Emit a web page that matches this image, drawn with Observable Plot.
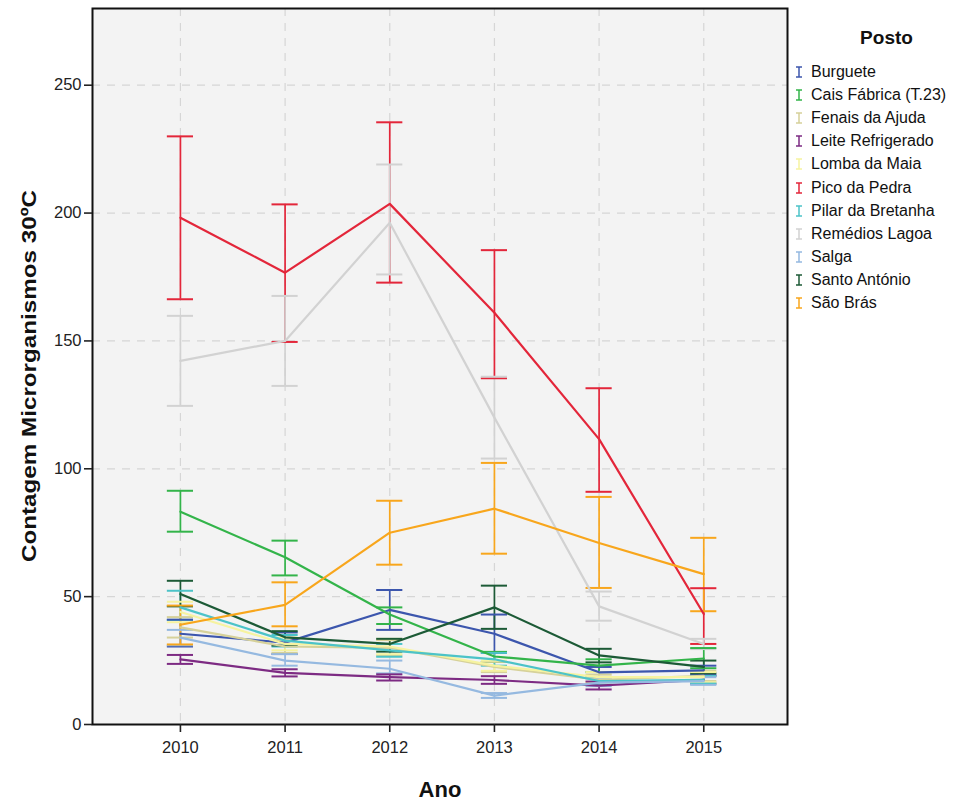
<!DOCTYPE html>
<html><head><meta charset="utf-8">
<script src="https://cdn.jsdelivr.net/npm/d3@7"></script>
<script src="https://cdn.jsdelivr.net/npm/@observablehq/plot@0.6"></script>
<style>
body{margin:0;background:#fff;font-family:"Liberation Sans",Arial,sans-serif;}
#wrap{position:relative;width:978px;height:801px;overflow:hidden;}
#chart{position:absolute;left:0;top:0;}
#legend{position:absolute;left:795px;top:24px;width:183px;}
#legend .title{font-weight:bold;font-size:19px;text-align:center;width:183px;height:36px;line-height:28px;color:#111;}
#legend .item{height:23.2px;display:flex;align-items:center;font-size:16px;color:#111;white-space:nowrap;}
#legend .item svg{margin-right:8px;flex:none;}
#labels{position:absolute;left:0;top:0;pointer-events:none;}
</style></head><body>
<div id="wrap"><div id="chart"></div><svg id="labels" width="978" height="801"></svg><div id="legend"></div></div>
<script>
const years = [2010, 2011, 2012, 2013, 2014, 2015];
const yTicks = [0, 50, 100, 150, 200, 250];
const postos = ["Burguete", "Cais Fábrica (T.23)", "Fenais da Ajuda", "Leite Refrigerado", "Lomba da Maia", "Pico da Pedra", "Pilar da Bretanha", "Remédios Lagoa", "Salga", "Santo António", "São Brás"];
const colors = ["#3c56ad", "#33b44a", "#d6d19a", "#7d2b83", "#f6f3a0", "#e3263a", "#4cc3c8", "#d2d2d2", "#95b9e0", "#1c5a36", "#f8a61c"];

// means, lower and upper error-bar ends per posto (2010..2015)
const burgueteMean = [35.5, 32, 44.8, 35.5, 20.4, 21.2];
const burgueteLo   = [30.5, 27.6, 37, 28, 18.5, 19.5];
const burgueteHi   = [41, 36, 52.6, 43, 22.5, 23];
const caisMean = [83.2, 65.4, 43, 26.6, 23, 25.8];
const caisLo   = [75.4, 58.3, 39.3, 24.5, 20.5, 22];
const caisHi   = [91.4, 71.9, 45.8, 28.4, 25.5, 29.9];
const fenaisMean = [38, 30.5, 30, 22.5, 17.5, 19];
const fenaisLo   = [34, 28, 27, 20.5, 15.5, 17];
const fenaisHi   = [42, 33, 33, 24.5, 19.5, 21];
const leiteMean = [25.5, 20.2, 18.5, 17.4, 15.2, 17.5];
const leiteLo   = [23.7, 18.8, 17.2, 15.9, 13.7, 16];
const leiteHi   = [27.2, 21.6, 19.6, 18.9, 16.8, 19];
const lombaMean = [44, 31.5, 30.5, 23, 18.5, 18.5];
const lombaLo   = [40, 29, 27.5, 21, 16.5, 16.5];
const lombaHi   = [48, 34, 33.5, 25, 20.5, 20.5];
const picoMean = [198.2, 176.7, 203.6, 161, 111.6, 43.2];
const picoLo   = [166.3, 149.6, 172.8, 135.4, 91, 31.5];
const picoHi   = [230, 203.4, 235.5, 185.5, 131.5, 53.3];
const pilarMean = [45.8, 32.8, 29, 25.5, 17, 17.5];
const pilarLo   = [40.9, 30.5, 26.5, 23, 15.5, 16];
const pilarHi   = [52.3, 35, 31.5, 28, 18.5, 19];
const remediosMean = [142.2, 150, 196.2, 120, 46.2, 31.5];
const remediosLo   = [124.6, 132.4, 176, 104, 40.6, 29.5];
const remediosHi   = [159.8, 167.6, 219, 136, 52, 33.5];
const salgaMean = [34, 25, 21.8, 11.3, 16.4, 17];
const salgaLo   = [31, 23, 20, 10.4, 15, 15.5];
const salgaHi   = [37, 27.5, 25, 12.3, 18, 18.5];
const santoMean = [51, 34.1, 31.5, 45.8, 27, 22.5];
const santoLo   = [46.2, 30.9, 28.5, 37.4, 24.3, 20];
const santoHi   = [56.2, 36.5, 33.5, 54.3, 29.6, 25];
const brasMean = [39, 46.8, 75, 84.4, 71, 58.8];
const brasLo   = [31.3, 38.4, 62.5, 66.8, 53.4, 44.3];
const brasHi   = [46.5, 55.6, 87.5, 102.3, 89, 73];

const series = [
  [burgueteMean, burgueteLo, burgueteHi],
  [caisMean, caisLo, caisHi],
  [fenaisMean, fenaisLo, fenaisHi],
  [leiteMean, leiteLo, leiteHi],
  [lombaMean, lombaLo, lombaHi],
  [picoMean, picoLo, picoHi],
  [pilarMean, pilarLo, pilarHi],
  [remediosMean, remediosLo, remediosHi],
  [salgaMean, salgaLo, salgaHi],
  [santoMean, santoLo, santoHi],
  [brasMean, brasLo, brasHi]
];
const rows = series.flatMap(([m, lo, hi], i) => years.map((year, j) => ({posto: postos[i], year, mean: m[j], lo: lo[j], hi: hi[j]})));

const capHalf = 0.125;
const xDomain = [2009.16, 2015.8];
const chart = Plot.plot({
  width: 790, height: 801,
  marginLeft: 92, marginRight: 3, marginTop: 8, marginBottom: 77,
  style: {fontFamily: "'Liberation Sans', Arial, sans-serif", fontSize: "16px", color: "#222", background: "transparent", overflow: "visible"},
  x: {domain: xDomain},
  y: {domain: [0, 280]},
  color: {domain: postos, range: colors},
  marks: [
    Plot.frame({fill: "#f3f3f3", stroke: null}),
    Plot.gridY(yTicks, {stroke: "#d6d6d6", strokeOpacity: 1, strokeWidth: 1.2, strokeDasharray: "8,7"}),
    Plot.gridX(years, {stroke: "#d6d6d6", strokeOpacity: 1, strokeWidth: 1.2, strokeDasharray: "8,7"}),
    Plot.ruleX(rows, {x: "year", y1: "lo", y2: "hi", stroke: "posto", strokeWidth: 1.7}),
    Plot.ruleY(rows, {y: "lo", x1: d => d.year - capHalf, x2: d => d.year + capHalf, stroke: "posto", strokeWidth: 2}),
    Plot.ruleY(rows, {y: "hi", x1: d => d.year - capHalf, x2: d => d.year + capHalf, stroke: "posto", strokeWidth: 2}),
    Plot.line(rows, {x: "year", y: "mean", z: "posto", stroke: "posto", strokeWidth: 2.2}),
    Plot.frame({stroke: "#111", strokeWidth: 2}),
    Plot.axisY(yTicks, {tickSize: 8, tickPadding: 3, label: null, fontSize: 16.5, stroke: "#222", strokeWidth: 1.6}),
    Plot.axisX(years, {tickSize: 8, tickPadding: 9, label: null, fontSize: 16.5, tickFormat: d => String(d), stroke: "#222", strokeWidth: 1.6})
  ]
});
chart.querySelectorAll('[aria-label$="tick label"]').forEach(g => { g.setAttribute("font-size", "16.5"); g.style.fontSize = "16.5px"; });
document.getElementById("chart").appendChild(chart);

// axis titles
const lab = d3.select("#labels");
lab.append("text").attr("x", 440).attr("y", 797).attr("text-anchor", "middle")
  .attr("font-family", "'Liberation Sans', Arial, sans-serif").attr("font-weight", "bold").attr("font-size", 22).attr("fill", "#111")
  .text("Ano");
lab.append("text").attr("transform", "translate(36,376) rotate(-90)").attr("text-anchor", "middle")
  .attr("font-family", "'Liberation Sans Narrow', 'Liberation Sans', Arial, sans-serif").attr("font-weight", "bold").attr("font-size", 21).attr("fill", "#111")
  .attr("textLength", 372).attr("lengthAdjust", "spacingAndGlyphs")
  .text("Contagem Microrganismos 30ºC");

// legend
const legend = d3.select("#legend");
legend.append("div").attr("class", "title").text("Posto");
postos.forEach((p, i) => {
  const item = legend.append("div").attr("class", "item");
  const s = item.append("svg").attr("width", 8).attr("height", 12);
  s.append("line").attr("x1", 4).attr("x2", 4).attr("y1", 1).attr("y2", 11).attr("stroke", colors[i]).attr("stroke-width", 1.5);
  s.append("line").attr("x1", 1).attr("x2", 7).attr("y1", 1).attr("y2", 1).attr("stroke", colors[i]).attr("stroke-width", 1.5);
  s.append("line").attr("x1", 1).attr("x2", 7).attr("y1", 11).attr("y2", 11).attr("stroke", colors[i]).attr("stroke-width", 1.5);
  item.append("span").text(p);
});
</script></body></html>
